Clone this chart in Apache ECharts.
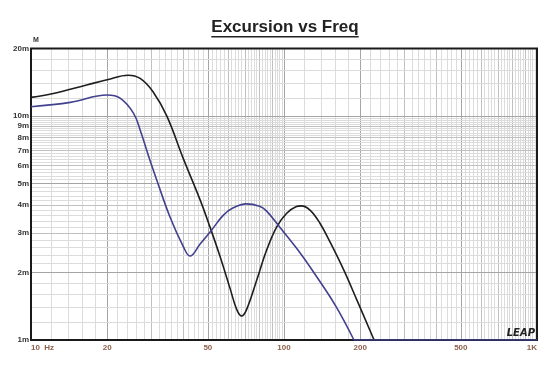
<!DOCTYPE html>
<html><head><meta charset="utf-8">
<script src="https://cdn.jsdelivr.net/npm/echarts@6/dist/echarts.min.js"></script>
<style>html,body{margin:0;padding:0;background:#fff}#c{width:560px;height:366px}</style>
</head><body><div id="c"></div>
<script>
// ---- data ----
const titleText = 'Excursion vs Freq';
const yUnitLabel = 'M';
const xTickValues = [10, 20, 50, 100, 200, 500, 1000];
const xTickLabels = ['10  Hz', '20', '50', '100', '200', '500', '1K'];
const yTickValues = [1, 2, 3, 4, 5, 6, 7, 8, 9, 10, 20];
const yTickLabels = ['1m', '2m', '3m', '4m', '5m', '6m', '7m', '8m', '9m', '10m', '20m'];

// black curve: frequency (Hz) / excursion (mm)
const blackFreq = [10, 12.25, 16.6, 20, 24.2, 27, 30.4, 34.4, 40, 46.6, 51, 55.8, 61.2, 65, 68, 71.2, 78, 85.4, 93.6, 102.5, 112, 117, 126.7, 138.7, 152, 172, 194, 227];
const blackMm   = [12.1, 12.6, 13.75, 14.5, 15.2, 14.7, 12.8, 10.0, 6.45, 4.22, 3.19, 2.37, 1.7, 1.37, 1.28, 1.37, 1.85, 2.52, 3.2, 3.68, 3.94, 3.97, 3.8, 3.32, 2.74, 2.06, 1.51, 1.0];
// black curve beyond its drop, clipped at the floor of the chart
const blackFloorFreq = [227, 1000];
const blackFloorMm   = [1.0, 1.0];

// blue curve
const blueFreq = [10, 14.3, 20, 22.5, 25.4, 27, 29.5, 31.4, 35.4, 40, 42.5, 46.6, 51.8, 57.5, 63, 71, 80, 85.4, 97, 116, 132, 160, 189];
const blueMm   = [11.0, 11.5, 12.4, 12.0, 10.3, 8.66, 6.36, 5.18, 3.55, 2.61, 2.37, 2.68, 3.1, 3.6, 3.89, 4.05, 3.95, 3.76, 3.15, 2.44, 1.98, 1.42, 1.0];
const blueFloorFreq = [189, 1000];
const blueFloorMm   = [1.0, 1.0];

// ---- grid line values (chart-paper style) ----
function paperLines(lo, hi, step) {
  const out = [];
  for (let d = lo; d < hi; d *= 10) {
    for (let k = 1; k < 10 - 1e-9; k += step) {
      const kk = +k.toFixed(6);
      const v = +(kk * d).toFixed(6);
      if (v <= lo || v >= hi) continue;
      const isInt = Math.abs(kk - Math.round(kk)) < 1e-6;
      const r = Math.round(kk);
      const major = isInt && (r === 1 || r === 2 || r === 5);
      out.push({ v, level: major ? 2 : (isInt ? 1 : 0) });
    }
  }
  return out;
}
const xLines = paperLines(10, 1000, 0.2);
const yLines = paperLines(1, 20, 0.2);

const lineColors = ['#dcdcdc', '#c0c0c0', '#a5a5a5'];
const markData = [];
xLines.forEach(o => markData.push({ xAxis: o.v, lineStyle: { color: lineColors[o.level], width: 1, type: 'solid' } }));
yLines.forEach(o => markData.push({ yAxis: o.v, lineStyle: { color: lineColors[o.level], width: 1, type: 'solid' } }));

function nearestLabel(values, labels, v) {
  let bi = 0, bd = Infinity;
  values.forEach((t, i) => { const d = Math.abs(Math.log(t) - Math.log(v)); if (d < bd) { bd = d; bi = i; } });
  return bd < 0.01 ? labels[bi] : '';
}

const zip = (a, b) => a.map((x, i) => [x, b[i]]);

const chart = echarts.init(document.getElementById('c'), null, { renderer: 'canvas' });

const ctx = document.createElement('canvas').getContext('2d');
const titleFont = 'bold 17px "Liberation Sans", Arial, sans-serif';
ctx.font = titleFont;
const tW = ctx.measureText(titleText).width;
const tCx = 285;

const BLACK = '#1e1e1e', BLUE = '#41418f';
const SMOOTH = 0.4;

chart.setOption({
  animation: false,
  backgroundColor: '#ffffff',
  grid: { left: 31, right: 23, top: 48.5, bottom: 26, show: true, borderColor: '#1a1a1a', borderWidth: 2, backgroundColor: 'transparent', z: 4 },
  xAxis: {
    type: 'log', logBase: 10, min: 10, max: 1000,
    axisLine: { show: false }, axisTick: { show: false }, splitLine: { show: false },
    axisLabel: {
      customValues: xTickValues,
      formatter: v => nearestLabel(xTickValues, xTickLabels, v),
      fontFamily: '"Liberation Sans", Arial, sans-serif',
      fontSize: 8, fontWeight: 'bold', color: '#8c5f48', margin: 4,
      alignMinLabel: 'left', alignMaxLabel: 'right'
    }
  },
  yAxis: {
    type: 'log', logBase: 10, min: 1, max: 20,
    axisLine: { show: false }, axisTick: { show: false }, splitLine: { show: false },
    axisLabel: {
      customValues: yTickValues,
      formatter: v => nearestLabel(yTickValues, yTickLabels, v),
      fontFamily: '"Liberation Sans", Arial, sans-serif',
      fontSize: 8, fontWeight: 'bold', color: '#333333', margin: 2
    }
  },
  graphic: [
    { type: 'text', left: tCx - tW / 2, top: 19, style: { text: titleText, font: titleFont, fill: '#222222' } },
    { type: 'rect', shape: { x: tCx - tW / 2, y: 36, width: tW, height: 1.6 }, style: { fill: '#222222' } },
    { type: 'text', left: 33, top: 37, style: { text: yUnitLabel, font: 'bold 7px "Liberation Sans", Arial, sans-serif', fill: '#333333' } },
    { type: 'text', right: 25, top: 328, z: 10, style: { text: 'LEAP', font: 'italic bold 10px "DejaVu Sans", sans-serif', fill: '#222222' } }
  ],
  series: [
    {
      type: 'line', data: [[10, 1]], symbol: 'none', lineStyle: { width: 0 }, z: 1, silent: true,
      markLine: { silent: true, symbol: ['none', 'none'], label: { show: false }, animation: false, z: 1, data: markData }
    },
    { type: 'line', data: zip(blackFreq, blackMm), smooth: SMOOTH, showSymbol: false, z: 5, lineStyle: { color: BLACK, width: 1.6 } },
    { type: 'line', data: zip(blackFloorFreq, blackFloorMm), showSymbol: false, z: 5, lineStyle: { color: BLACK, width: 1.6 } },
    { type: 'line', data: zip(blueFreq, blueMm), smooth: SMOOTH, showSymbol: false, z: 6, lineStyle: { color: BLUE, width: 1.6 } },
    { type: 'line', data: zip(blueFloorFreq, blueFloorMm), showSymbol: false, z: 6, lineStyle: { color: BLUE, width: 1.6 } }
  ]
});
</script></body></html>
